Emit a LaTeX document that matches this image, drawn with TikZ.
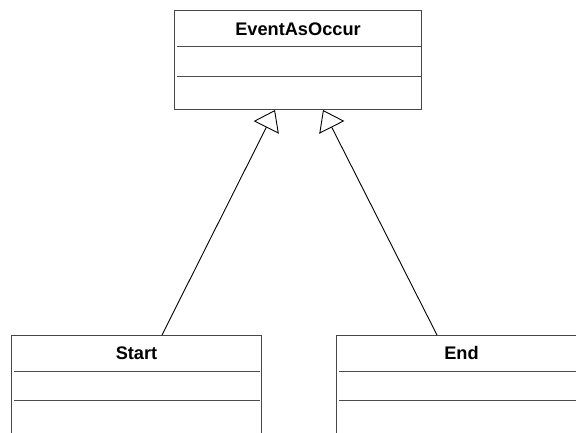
\documentclass[tikz,border=0pt]{standalone}
\usepackage{fontspec}
\setmainfont{Liberation Sans}
\usetikzlibrary{arrows.meta,calc}
\begin{document}
\begin{tikzpicture}[x=1pt,y=-1pt,
  classbox/.style={draw=black!72,line width=1pt,rectangle,inner sep=0pt,minimum width=#1,anchor=north west},
  classbox/.default=248pt,
  divider/.style={draw=black!70,line width=1pt},
  title/.style={font=\fontsize{18.2}{21}\selectfont\bfseries,inner sep=0pt,anchor=center},
  inherit/.style={draw=black,line width=0.9pt,-{Triangle[open,length=19.5pt,width=28pt,line width=0.9pt]}}]
\clip (0,0) rectangle (576,432);
% boxes
\node[classbox=247pt,minimum height=99pt] (top) at (174,10) {};
\node[classbox=250pt,minimum height=130pt] (start) at (11,335) {};
\node[classbox=250pt,minimum height=130pt] (end) at (336,335) {};
% dividers
\draw[divider] ([xshift=3pt,yshift=-36.7pt]top.north west) -- ([xshift=-1.5pt,yshift=-36.7pt]top.north east);
\draw[divider] ([xshift=3pt,yshift=-66pt]top.north west) -- ([xshift=-1.5pt,yshift=-66pt]top.north east);
\draw[divider] ([xshift=2.5pt,yshift=-36pt]start.north west) -- ([xshift=-2.5pt,yshift=-36pt]start.north east);
\draw[divider] ([xshift=2.5pt,yshift=-65pt]start.north west) -- ([xshift=-2.5pt,yshift=-65pt]start.north east);
\draw[divider] ([xshift=2.5pt,yshift=-36pt]end.north west) -- ([xshift=-2.5pt,yshift=-36pt]end.north east);
\draw[divider] ([xshift=2.5pt,yshift=-65pt]end.north west) -- ([xshift=-2.5pt,yshift=-65pt]end.north east);
% titles
\node[title] (ttop) at ([yshift=-19pt]top.north) {EventAsOccur};
\node[title] (tstart) at ([yshift=-18pt]start.north) {Start};
\node[title] (tend) at ([yshift=-18pt]end.north) {End};
% generalisations
\draw[inherit] ([xshift=151pt]start.north west) -- ([xshift=101pt]top.south west);
\draw[inherit] ([xshift=101pt]end.north west) -- ([xshift=149pt]top.south west);
\end{tikzpicture}
\end{document}
